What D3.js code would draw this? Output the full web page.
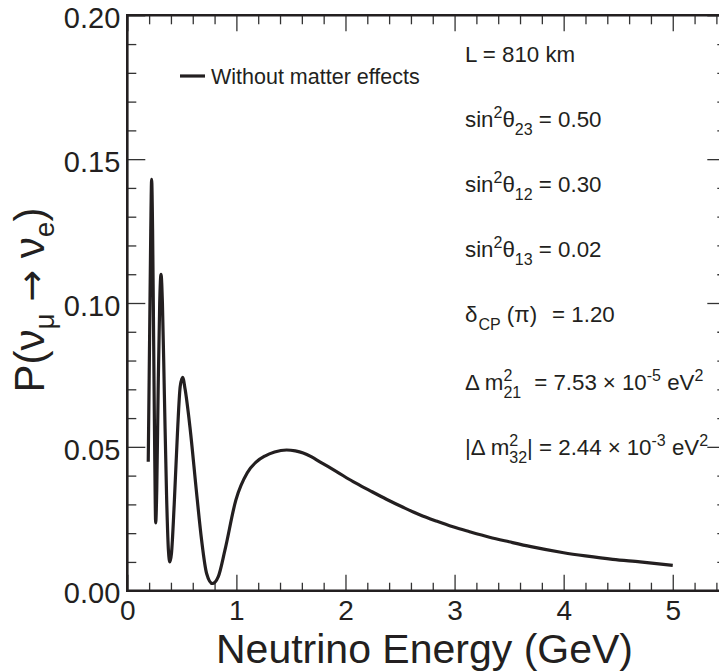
<!DOCTYPE html>
<html><head><meta charset="utf-8">
<script src="https://cdn.jsdelivr.net/npm/d3@7"></script>
<style>
html,body{margin:0;padding:0;background:#fff;}
svg{display:block;}
text{font-family:"Liberation Sans",Arial,Helvetica,sans-serif;fill:#231f20;}
</style></head><body>
<svg id="chart" width="719" height="672"></svg>
<script>
// ---- data ----
const energyGeV = [0.192,0.205,0.215,0.223,0.232,0.242,0.252,0.260,0.270,0.283,0.297,0.309,0.322,0.340,0.360,0.377,0.390,0.405,0.430,0.460,0.485,0.507,0.530,0.574,0.635,0.681,0.727,0.780,0.834,0.895,0.995,1.100,1.180,1.261,1.350,1.460,1.540,1.612,1.690,1.765,1.918,2.070,2.223,2.375,2.528,2.680,2.833,2.985,3.138,3.320,3.500,3.700,4.000,4.200,4.450,4.700,5.000];
const probability = [0.0448,0.090,0.125,0.143,0.125,0.085,0.045,0.0236,0.035,0.070,0.100,0.110,0.100,0.068,0.033,0.014,0.010,0.013,0.030,0.055,0.071,0.0742,0.070,0.057,0.034,0.0176,0.006,0.0025,0.0049,0.0141,0.0315,0.0410,0.0447,0.0468,0.0482,0.0489,0.0486,0.0479,0.0465,0.0448,0.0414,0.0379,0.0348,0.0318,0.0290,0.0264,0.0242,0.0222,0.0205,0.0186,0.0170,0.0153,0.0132,0.0121,0.0109,0.0100,0.0088];
const xDomain = [0, 5.5];
const yDomain = [0, 0.20];
const xMajorTicks = [0,1,2,3,4,5];
const xTickLabels = ["0","1","2","3","4","5"];
const yMajorTicks = [0,0.05,0.10,0.15,0.20];
const yTickLabels = ["0.00","0.05","0.10","0.15","0.20"];
const legendLabels = ["Without matter effects"];
const xTitle = "Neutrino Energy (GeV)";

const svg = d3.select("#chart");
const L = 127.3, T = 15.3, B = 590.7, R = 727.3;
const x = d3.scaleLinear().domain(xDomain).range([L, R]);
const y = d3.scaleLinear().domain(yDomain).range([B, T]);

const xMinor = d3.range(0, 5.51, 0.2).filter(v => Math.abs(v - Math.round(v)) > 1e-6);
const yMinor = d3.range(0, 0.2001, 0.01).filter(v => Math.abs(v/0.05 - Math.round(v/0.05)) > 1e-6);

const tickColor = "#333";
const FONT = "'Liberation Sans',Arial,sans-serif";
function styleAxis(g){
  g.select(".domain").remove();
  g.selectAll(".tick line").attr("stroke", tickColor).attr("stroke-width", 1.3);
}
// bottom
svg.append("g").attr("transform",`translate(0,${B})`)
  .call(d3.axisBottom(x).tickValues(xMajorTicks).tickSizeInner(-16).tickSizeOuter(0).tickPadding(9)
    .tickFormat((d,i)=>xTickLabels[i]))
  .call(styleAxis)
  .call(g=>g.selectAll("text").attr("font-size",28).attr("fill","#231f20").attr("font-family",FONT));
svg.append("g").attr("transform",`translate(0,${B})`)
  .call(d3.axisBottom(x).tickValues(xMinor).tickSizeInner(-8).tickSizeOuter(0).tickFormat(""))
  .call(styleAxis);
// top
svg.append("g").attr("transform",`translate(0,${T})`)
  .call(d3.axisTop(x).tickValues(xMajorTicks).tickSizeInner(-16).tickSizeOuter(0).tickFormat(""))
  .call(styleAxis);
svg.append("g").attr("transform",`translate(0,${T})`)
  .call(d3.axisTop(x).tickValues(xMinor).tickSizeInner(-9).tickSizeOuter(0).tickFormat(""))
  .call(styleAxis);
// left
svg.append("g").attr("transform",`translate(${L},0)`)
  .call(d3.axisLeft(y).tickValues(yMajorTicks).tickSizeInner(-18).tickSizeOuter(0).tickPadding(7)
    .tickFormat((d,i)=>yTickLabels[i]))
  .call(styleAxis)
  .call(g=>g.selectAll("text").attr("font-size",29).attr("dy","0.42em").attr("fill","#231f20").attr("font-family",FONT));
svg.append("g").attr("transform",`translate(${L},0)`)
  .call(d3.axisLeft(y).tickValues(yMinor).tickSizeInner(-9).tickSizeOuter(0).tickFormat(""))
  .call(styleAxis);
// right
svg.append("g").attr("transform",`translate(${R},0)`)
  .call(d3.axisRight(y).tickValues(yMajorTicks).tickSizeInner(-20).tickSizeOuter(0).tickFormat(""))
  .call(styleAxis);
svg.append("g").attr("transform",`translate(${R},0)`)
  .call(d3.axisRight(y).tickValues(yMinor).tickSizeInner(-10).tickSizeOuter(0).tickFormat(""))
  .call(styleAxis);

// frame
const frame = svg.append("g").attr("stroke","#231f20").attr("stroke-width",2.6).attr("fill","none");
frame.append("line").attr("x1",L).attr("x2",L).attr("y1",T-1.3).attr("y2",B+1.3);
frame.append("line").attr("x1",L).attr("x2",R).attr("y1",B).attr("y2",B);
frame.append("line").attr("x1",L).attr("x2",R).attr("y1",T).attr("y2",T);
frame.append("line").attr("x1",R).attr("x2",R).attr("y1",T).attr("y2",B);

// curve
const pts = energyGeV.map((e,i)=>[e, probability[i]]);
svg.append("path").datum(pts)
  .attr("fill","none").attr("stroke","#231f20").attr("stroke-width",3.2)
  .attr("stroke-linejoin","round")
  .attr("d", d3.line().x(d=>x(d[0])).y(d=>y(d[1])).curve(d3.curveMonotoneX));

// legend
const leg = svg.append("g");
legendLabels.forEach((lab,i)=>{
  leg.append("line").attr("x1",180).attr("x2",205).attr("y1",76+i*30).attr("y2",76+i*30)
    .attr("stroke","#231f20").attr("stroke-width",3.2);
  leg.append("text").attr("x",211).attr("y",83.5+i*30).attr("font-size",21.5).text(lab);
});

// annotations
function rich(xp, yp, segs){
  const t = svg.append("text").attr("x",xp).attr("y",yp).attr("font-size",22.3);
  let cur = 0;
  segs.forEach(s=>{
    const target = s.m==="sup" ? -9 : s.m==="sub" ? 8 : 0;
    const ts = t.append("tspan").text(s.t).attr("dy", target - cur);
    if (s.m==="sup"||s.m==="sub") ts.attr("font-size",16);
    if (s.dx) ts.attr("dx", s.dx);
    cur = target;
  });
  return t;
}
rich(465, 61.7, [{t:"L = 810 km"}]);
rich(465, 126.7, [{t:"sin"},{t:"2",m:"sup"},{t:"θ"},{t:"23",m:"sub"},{t:" = 0.50"}]);
rich(465, 191.7, [{t:"sin"},{t:"2",m:"sup"},{t:"θ"},{t:"12",m:"sub"},{t:" = 0.30"}]);
rich(465, 257.0, [{t:"sin"},{t:"2",m:"sup"},{t:"θ"},{t:"13",m:"sub"},{t:" = 0.02"}]);
rich(465, 321.7, [{t:"δ"},{t:"CP",m:"sub",dx:1},{t:" (π)"},{t:"= 1.20",dx:15}]);
rich(465, 390.0, [{t:"Δ m"},{t:"2",m:"sup"},{t:"21",m:"sub",dx:-8.9},{t:"= 7.53",dx:13},{t:"×",dx:6},{t:"10",dx:6},{t:"-5",m:"sup"},{t:" eV"},{t:"2",m:"sup"}]);
rich(465, 455.0, [{t:"|Δ m"},{t:"2",m:"sup"},{t:"32",m:"sub",dx:-8.9},{t:"| = 2.44"},{t:"×",dx:6},{t:"10",dx:6},{t:"-3",m:"sup"},{t:" eV"},{t:"2",m:"sup"}]);

// axis titles
svg.append("text").attr("x",424.5).attr("y",663).attr("text-anchor","middle")
  .attr("font-size",41).text(xTitle);
const yt = svg.append("text").attr("transform","translate(44,300) rotate(-90)")
  .attr("text-anchor","middle").attr("font-size",42);
yt.append("tspan").text("P(ν");
yt.append("tspan").text("μ").attr("font-size",28).attr("dy",10);
yt.append("tspan").text(" ").attr("dy",-10);
yt.append("tspan").text("→").attr("font-family","'DejaVu Sans',sans-serif").attr("font-size",38);
yt.append("tspan").text(" ν");
yt.append("tspan").text("e").attr("font-size",28).attr("dy",10);
yt.append("tspan").text(")").attr("dy",-10);
</script>
</body></html>
